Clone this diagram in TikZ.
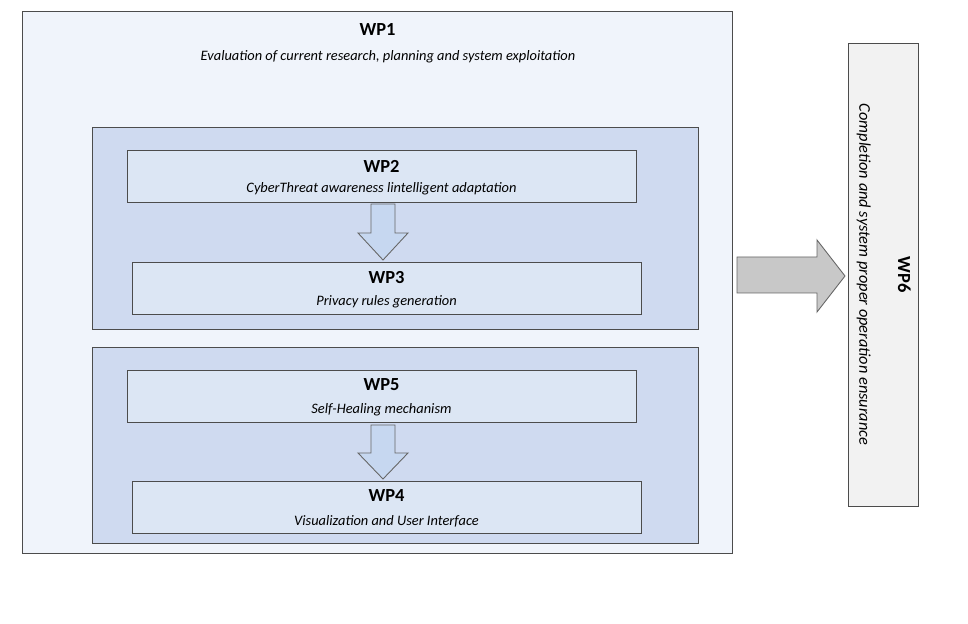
\documentclass[tikz,border=0pt]{standalone}
\usepackage{fontspec}
\setmainfont{Carlito}
\usetikzlibrary{positioning}

\definecolor{outerfill}{HTML}{F0F4FB}
\definecolor{groupfill}{HTML}{CFDAF0}
\definecolor{wpfill}{HTML}{DCE6F4}
\definecolor{downfill}{HTML}{C6D7F0}
\definecolor{bigfill}{HTML}{C8C8C8}
\definecolor{sidefill}{HTML}{F2F2F2}

\begin{document}
\begin{tikzpicture}[x=0.02cm, y=-0.02cm]
    \tikzset{
        box/.style={draw=black!70, line width=0.5pt, rectangle, inner sep=0pt},
        wp/.style={box, fill=wpfill, minimum width=10.18cm, minimum height=1.04cm},
        title/.style={font=\bfseries\fontsize{10.5}{12}\selectfont},
        sub/.style={font=\itshape\fontsize{8.2}{9}\selectfont},
        down/.style={draw=black!60, fill=downfill, line width=0.5pt}
    }
    \useasboundingbox (0,0) rectangle (968,624);

    % OUTER PACKAGE
    \node[box, fill=outerfill, minimum width=14.22cm, minimum height=10.84cm] (wp1) at (377.5,282) {};
    \node[title] (wp1t) at (377.5,30) {WP1};
    \node[sub] (wp1s) at (388,57) {Evaluation of current research, planning and system exploitation};

    % GROUPS
    \node[box, fill=groupfill, minimum width=12.12cm, minimum height=4.04cm] (g1) at (395,228) {};
    \node[box, fill=groupfill, minimum width=12.12cm, minimum height=3.92cm] (g2) at (395,445) {};

    % WORK PACKAGES
    \node[wp] (wp2) at (381.5,176) {};
    \node[title] at (381.5,166) {WP2};
    \node[sub] at (381.5,189) {CyberThreat awareness lintelligent adaptation};
    \node[wp] (wp3) at (386.5,288) {};
    \node[title] at (386.5,278) {WP3};
    \node[sub] at (386.5,302) {Privacy rules generation};
    \node[wp] (wp5) at (381.5,396) {};
    \node[title] at (381.5,385) {WP5};
    \node[sub] at (381.5,410) {Self-Healing mechanism};
    \node[wp] (wp4) at (386.5,507) {};
    \node[title] at (386.5,496) {WP4};
    \node[sub] at (386.5,521) {Visualization and User Interface};

    % ARROWS
    \draw[down] (371,204) -- (395,204) -- (395,233) -- (408,233) -- (383,260)
        -- (358,233) -- (371,233) -- cycle;
    \draw[down] (371,425) -- (395,425) -- (395,453) -- (408,453) -- (383,479)
        -- (358,453) -- (371,453) -- cycle;
    \draw[draw=black!60, fill=bigfill, line width=0.5pt] (737,257) -- (817,257) -- (817,240)
        -- (845,276) -- (817,312) -- (817,293) -- (737,293) -- cycle;

    % SIDE PACKAGE
    \node[box, fill=sidefill, minimum width=1.4cm, minimum height=9.26cm] (wp6) at (883,274.5) {};
    \node[rotate=-90, anchor=center] at (wp6.center)
        {\begin{tabular}{c}{\bfseries\fontsize{10.5}{12}\selectfont WP6}\\[10pt]
        {\itshape\fontsize{9.3}{10}\selectfont Completion and system proper operation ensurance}\end{tabular}};
\end{tikzpicture}
\end{document}
